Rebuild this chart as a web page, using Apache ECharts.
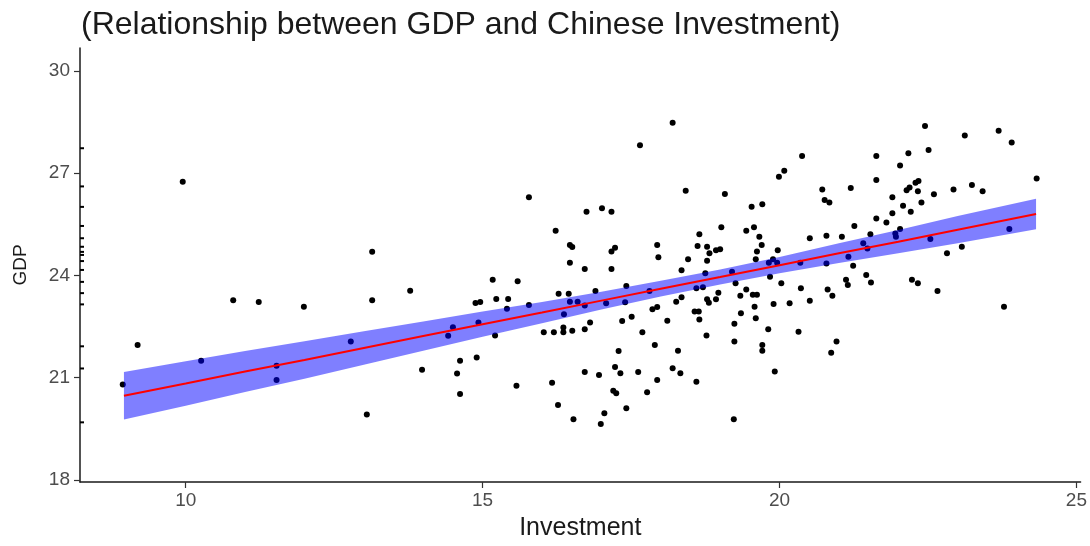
<!DOCTYPE html>
<html>
<head>
<meta charset="utf-8">
<title>GDP vs Chinese Investment</title>
<script src="https://cdn.jsdelivr.net/npm/echarts@6/dist/echarts.min.js"></script>
<style>
  html, body { margin: 0; padding: 0; background: #fff; }
  #chart { width: 1090px; height: 546px; }
</style>
</head>
<body>
<div id="chart"></div>
<script>
// scatter points: [investment, gdp]
var points = [
  [9.95, 26.75], [13.14, 24.69], [13.78, 23.55], [10.80, 23.27], [11.23, 23.22], [11.99, 23.08], [13.14, 23.27],
  [9.19, 21.96], [12.78, 22.06], [10.26, 21.50], [11.53, 21.35], [11.53, 20.93], [8.94, 20.80], [13.05, 19.92],

  [17.65, 27.82], [15.78, 26.29], [16.75, 25.87], [17.01, 25.97], [17.17, 25.87], [16.23, 25.31], [16.47, 24.89],
  [16.51, 24.83], [17.17, 24.70], [17.23, 24.81], [16.47, 24.37], [16.72, 24.19], [17.17, 24.19], [15.17, 23.87],
  [15.59, 23.83], [16.28, 23.46], [16.45, 23.46], [16.90, 23.54], [17.42, 23.69], [14.88, 23.19], [14.96, 23.22],
  [15.23, 23.31], [15.43, 23.31], [15.41, 23.02], [15.78, 23.13], [16.47, 23.23], [16.60, 23.23], [16.72, 23.12],
  [17.08, 23.18], [17.40, 23.21], [16.37, 22.86], [14.93, 22.62], [14.50, 22.48], [14.42, 22.23], [15.21, 22.24],
  [16.03, 22.33], [16.20, 22.33], [16.36, 22.47], [16.36, 22.33], [16.51, 22.38], [16.72, 22.42], [16.81, 22.62],
  [17.35, 22.66], [17.51, 22.79], [17.69, 22.33], [13.98, 21.23], [14.62, 21.50], [14.90, 21.59], [14.57, 21.12],
  [14.62, 20.52], [15.57, 20.76], [16.17, 20.85], [16.27, 20.20], [16.53, 19.78], [16.72, 21.17], [16.96, 21.08],
  [17.05, 19.96], [16.99, 19.64], [17.23, 21.31], [17.32, 21.13], [17.29, 21.78], [17.20, 20.62], [17.25, 20.54],
  [17.42, 20.10], [17.62, 21.17], [17.77, 20.57],

  [18.20, 28.48], [20.38, 27.50], [20.08, 27.07], [19.99, 26.89], [21.63, 27.50], [21.63, 26.80], [18.42, 26.48],
  [19.08, 26.39], [20.72, 26.52], [21.20, 26.56], [20.76, 26.21], [20.84, 26.14], [19.53, 26.01], [19.71, 26.09],
  [19.02, 25.41], [19.44, 25.31], [19.57, 25.41], [19.66, 25.13], [19.70, 24.89], [19.62, 24.70], [18.65, 25.21],
  [18.62, 24.86], [18.78, 24.84], [18.93, 24.74], [18.82, 24.65], [18.78, 24.43], [17.94, 24.89], [17.96, 24.53],
  [18.46, 24.47], [18.35, 24.15], [18.75, 24.06], [19.20, 24.11], [19.60, 24.47], [19.82, 24.37], [19.89, 24.47],
  [19.96, 24.37], [19.97, 24.74], [20.35, 24.37], [20.51, 25.09], [20.79, 25.16], [21.05, 25.13], [21.26, 25.45],
  [21.53, 25.21], [21.63, 25.67], [21.80, 25.55], [20.79, 24.35], [21.16, 24.55], [21.24, 24.28], [21.41, 24.94],
  [21.48, 24.79], [21.46, 24.01], [21.54, 23.79], [21.12, 23.87], [21.15, 23.72], [20.81, 23.59], [20.89, 23.40],
  [20.36, 23.62], [20.51, 23.26], [20.17, 23.18], [19.90, 23.16], [20.03, 23.77], [19.84, 23.96], [19.26, 23.77],
  [19.34, 23.40], [19.44, 23.59], [19.55, 23.43], [19.62, 23.43], [19.58, 23.08], [19.35, 22.89], [19.60, 22.74],
  [18.97, 23.49], [18.93, 23.30], [18.78, 23.30], [18.81, 23.20], [18.60, 23.62], [18.71, 23.65], [18.35, 23.36],
  [18.26, 23.23], [17.81, 23.54], [17.86, 23.01], [17.94, 23.07], [18.57, 22.94], [18.64, 22.94], [18.65, 22.71],
  [18.11, 22.67], [18.77, 22.24], [19.24, 22.58], [19.24, 22.06], [19.81, 22.42], [19.71, 21.96], [19.71, 21.79],
  [20.32, 22.35], [20.96, 22.06], [20.87, 21.73], [17.90, 21.96], [18.29, 21.79], [18.20, 21.28], [18.33, 21.13],
  [17.94, 20.93], [18.60, 20.88], [19.92, 21.18], [19.23, 19.78], [19.00, 24.77],

  [22.45, 28.38], [23.12, 28.10], [23.69, 28.24], [23.91, 27.90], [22.17, 27.58], [22.51, 27.68], [22.03, 27.22],
  [22.29, 26.72], [22.34, 26.77], [22.14, 26.50], [22.19, 26.58], [22.33, 26.47], [22.60, 26.38], [22.93, 26.52],
  [23.24, 26.65], [23.42, 26.47], [24.33, 26.84], [21.90, 26.29], [22.39, 26.14], [22.08, 26.04], [22.21, 25.87],
  [21.90, 25.82], [22.03, 25.36], [21.95, 25.23], [21.96, 25.13], [22.54, 25.07], [23.87, 25.36], [23.07, 24.84],
  [22.82, 24.65], [22.23, 23.87], [22.33, 23.77], [22.66, 23.54], [23.78, 23.08]
];

// little marks that sit on the y axis line
var rugGdp = [27.73, 26.61, 26.01, 25.45, 25.09, 24.84, 24.69, 24.60, 24.42, 24.16, 23.81, 23.48, 23.15, 21.92, 21.27, 19.69];

// fitted line and confidence band
var fitX  = [8.96, 10, 11, 12, 13, 14, 15, 16, 17, 18, 19, 20, 21, 22, 23, 24.32];
var fitY  = [20.47, 20.83, 21.18, 21.52, 21.87, 22.22, 22.57, 22.91, 23.26, 23.61, 23.95, 24.30, 24.65, 24.99, 25.34, 25.80];
var fitLo = [19.77, 20.18, 20.58, 20.97, 21.38, 21.79, 22.20, 22.60, 23.00, 23.38, 23.73, 24.06, 24.36, 24.65, 24.94, 25.35];
var fitHi = [21.17, 21.48, 21.78, 22.07, 22.36, 22.65, 22.94, 23.22, 23.52, 23.84, 24.17, 24.54, 24.94, 25.33, 25.74, 26.25];

var xTicks = [10, 15, 20, 25];
var yTicks = [18, 21, 24, 27, 30];
var xMin = 8.22, xMax = 25.07;
var yMin = 17.94, yMax = 30.67;

var chart = echarts.init(document.getElementById('chart'));

var fitLine = fitX.map(function (x, i) { return [x, fitY[i]]; });
var rug = rugGdp.map(function (y) { return [xMin, y]; });

// band polygon: upper edge left to right, then lower edge back
function renderBand(params, api) {
  var pts = [];
  for (var i = 0; i < fitX.length; i++) pts.push(api.coord([fitX[i], fitHi[i]]));
  for (var j = fitX.length - 1; j >= 0; j--) pts.push(api.coord([fitX[j], fitLo[j]]));
  return {
    type: 'polygon',
    shape: { points: pts },
    style: { fill: 'rgba(0, 0, 255, 0.5)' }
  };
}

var font = 'Liberation Sans, Arial, sans-serif';

var option = {
  animation: false,
  backgroundColor: '#ffffff',
  textStyle: { fontFamily: font },
  title: {
    text: '(Relationship between GDP and Chinese Investment)',
    left: 76,
    top: 4,
    textStyle: { fontSize: 32, fontWeight: 'normal', color: '#1a1a1a', fontFamily: font }
  },
  grid: { left: 80, right: 9, top: 48, bottom: 64 },
  xAxis: {
    type: 'value',
    min: xMin,
    max: xMax,
    name: 'Investment',
    nameLocation: 'middle',
    nameGap: 34,
    nameTextStyle: { fontSize: 25, color: '#1a1a1a' },
    axisLine: { show: true, onZero: false, lineStyle: { color: '#1a1a1a', width: 1.5 } },
    axisTick: { show: true, length: 6, customValues: xTicks, lineStyle: { color: '#333', width: 1.2 } },
    axisLabel: { customValues: xTicks, fontSize: 19, color: '#4d4d4d', margin: 9 },
    splitLine: { show: false }
  },
  yAxis: {
    type: 'value',
    min: yMin,
    max: yMax,
    name: 'GDP',
    nameLocation: 'middle',
    nameGap: 50,
    nameTextStyle: { fontSize: 19, color: '#1a1a1a' },
    axisLine: { show: true, onZero: false, lineStyle: { color: '#1a1a1a', width: 1.5 } },
    axisTick: { show: true, length: 6, customValues: yTicks, lineStyle: { color: '#333', width: 1.2 } },
    axisLabel: { customValues: yTicks, fontSize: 19, color: '#4d4d4d', margin: 10 },
    splitLine: { show: false }
  },
  series: [
    {
      name: 'points',
      type: 'scatter',
      data: points,
      symbolSize: 6,
      itemStyle: { color: '#000', opacity: 1 },
      z: 2
    },
    {
      name: 'rug',
      type: 'scatter',
      data: rug,
      symbol: 'rect',
      symbolSize: [4, 2],
      symbolOffset: [2, 0],
      itemStyle: { color: '#000', opacity: 1 },
      z: 2
    },
    {
      name: 'band',
      type: 'custom',
      renderItem: renderBand,
      data: [[fitX[0], fitY[0]]],
      silent: true,
      z: 3
    },
    {
      name: 'fit',
      type: 'line',
      data: fitLine,
      symbol: 'none',
      lineStyle: { color: '#ff0000', width: 2 },
      z: 4
    }
  ]
};

chart.setOption(option);
</script>
</body>
</html>
